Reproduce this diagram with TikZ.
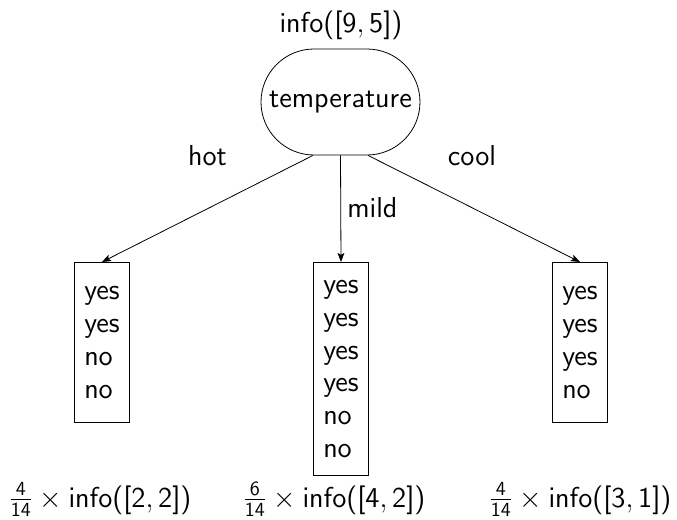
\documentclass[tikz,border=0pt]{standalone}
\usetikzlibrary{arrows.meta,calc}
% sans-serif digits, brackets and operator names in math
\SetSymbolFont{operators}{normal}{OT1}{cmss}{m}{n}
\begin{document}
\begin{tikzpicture}[x=0.5pt,y=-0.5pt,
  every node/.style={font=\sffamily\fontsize{14.4}{16.4}\selectfont},
  split/.style={draw, rounded corners=26.5pt, minimum width=79.5pt,
    minimum height=53pt, inner sep=0pt},
  leaf/.style={draw, anchor=north, inner sep=0pt, minimum width=27.5pt},
  branch/.style={-{Stealth[length=4.5pt,width=3.4pt,inset=0.9pt]}},
  lbl/.style={anchor=base, inner sep=0pt}]
  \useasboundingbox (0,0) rectangle (677,520);

  % root test on temperature
  \node[lbl] (info) at (341,32) {info$([9,5])$};
  \node[split] (root) at (340.5,102) {temperature};

  % leaves with their class labels
  \node[leaf, minimum height=80pt] (b1) at (102,262)
    {\begin{tabular}{@{}l@{}}yes\\yes\\no\\no\end{tabular}};
  \node[leaf, minimum height=106.5pt] (b2) at (341,262)
    {\begin{tabular}{@{}l@{}}yes\\yes\\yes\\yes\\no\\no\end{tabular}};
  \node[leaf, minimum height=80pt] (b3) at (580,262)
    {\begin{tabular}{@{}l@{}}yes\\yes\\yes\\no\end{tabular}};

  % branches
  \draw[branch] ($(root.south)+(-27.5,0)$) -- (b1.north);
  \draw[branch] (root.south) -- (b2.north);
  \draw[branch] ($(root.south)+(27.5,0)$) -- (b3.north);

  % branch labels
  \node[lbl] (hot) at (207.5,165) {hot};
  \node[lbl, anchor=base west] (mild) at (347,217) {mild};
  \node[lbl] (cool) at (472,165) {cool};

  % weighted information of each branch
  \node[lbl] (w1) at (100,507) {$\frac{4}{14}\times\mathrm{info}([2,2])$};
  \node[lbl] (w2) at (334,507) {$\frac{6}{14}\times\mathrm{info}([4,2])$};
  \node[lbl] (w3) at (580,507) {$\frac{4}{14}\times\mathrm{info}([3,1])$};
\end{tikzpicture}
\end{document}
